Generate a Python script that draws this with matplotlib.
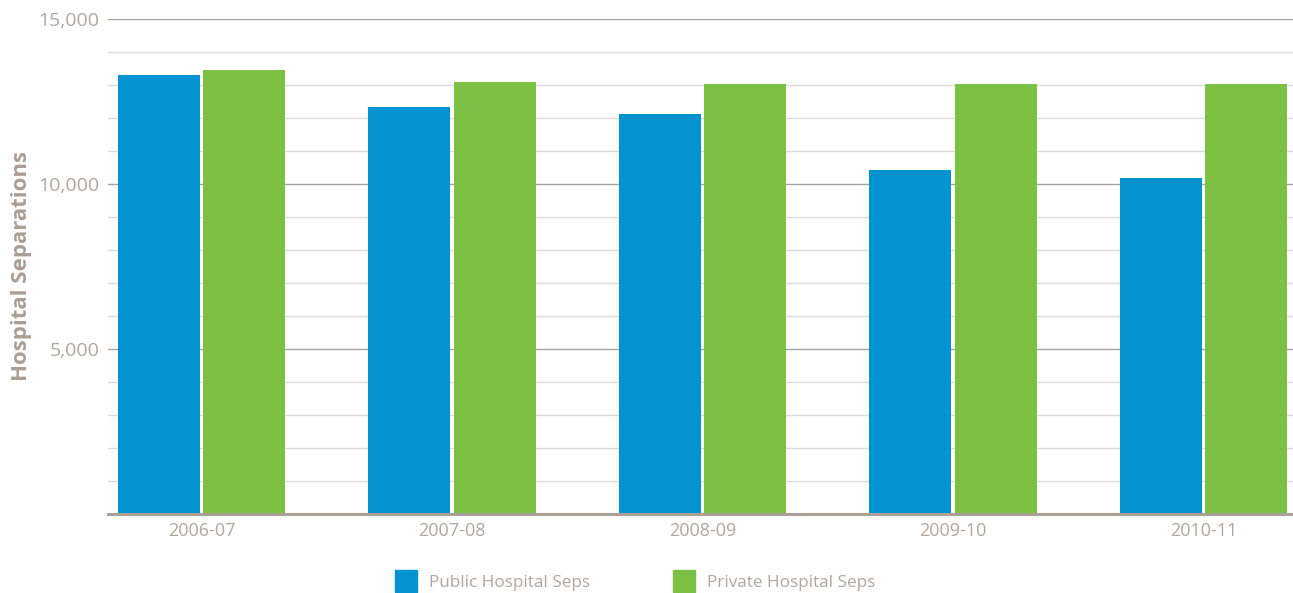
import matplotlib.pyplot as plt
from matplotlib.lines import Line2D
from matplotlib.ticker import FuncFormatter, MultipleLocator
import numpy as np

plt.rcParams['font.family'] = ['Open Sans', 'DejaVu Sans']

years = ['2006-07', '2007-08', '2008-09', '2009-10', '2010-11']
public_seps = [13300, 12330, 12120, 10420, 10180]
private_seps = [13450, 13090, 13030, 13030, 13030]

blue = '#0393d0'
green = '#7cc144'
txt = '#b0a79f'

fig = plt.figure(figsize=(12.93, 5.93), dpi=100)
ax = fig.add_axes([0.0835, 0.1332, 0.9165, 0.8348])

x = np.arange(len(years))
w = 0.327
ax.bar(x - 0.17, public_seps, w, color=blue, zorder=3)
ax.bar(x + 0.17, private_seps, w, color=green, zorder=3)

ax.set_xlim(-0.373, 4.357)
ax.set_ylim(0, 15000)
ax.yaxis.set_major_locator(MultipleLocator(5000))
ax.yaxis.set_minor_locator(MultipleLocator(1000))
ax.yaxis.set_major_formatter(FuncFormatter(lambda v, p: '' if v == 0 else f'{int(v):,}'))
ax.grid(axis='y', which='major', color='#a8a29c', lw=1.0, zorder=0)
ax.grid(axis='y', which='minor', color='#dedad6', lw=1.0, zorder=0)

for s in ['top', 'right', 'left']:
    ax.spines[s].set_visible(False)
ax.spines['bottom'].set_color('#aaa098')
ax.spines['bottom'].set_linewidth(2.2)
ax.spines['bottom'].set_zorder(4)

ax.set_xticks(x)
ax.set_xticklabels(years)
ax.tick_params(axis='x', length=0, pad=6, labelsize=13, labelcolor=txt)
ax.tick_params(axis='y', which='major', length=0, pad=6, labelsize=14, labelcolor=txt)
ax.tick_params(axis='y', which='minor', length=0)

ax.set_ylabel('Hospital Separations', fontsize=16, fontweight='bold', color='#a89f97')
ax.yaxis.set_label_coords(-0.064, 0.5)

handles = [
    Line2D([], [], marker='s', ls='none', markersize=16, color=blue, label='Public Hospital Seps'),
    Line2D([], [], marker='s', ls='none', markersize=16, color=green, label='Private Hospital Seps'),
]
leg = fig.legend(handles=handles, loc='center', bbox_to_anchor=(0.4885, 0.017), ncol=2,
                 frameon=False, fontsize=12.3, handletextpad=0.35, columnspacing=4.5)
for t in leg.get_texts():
    t.set_color(txt)

fig.savefig('out.png', dpi=100)
